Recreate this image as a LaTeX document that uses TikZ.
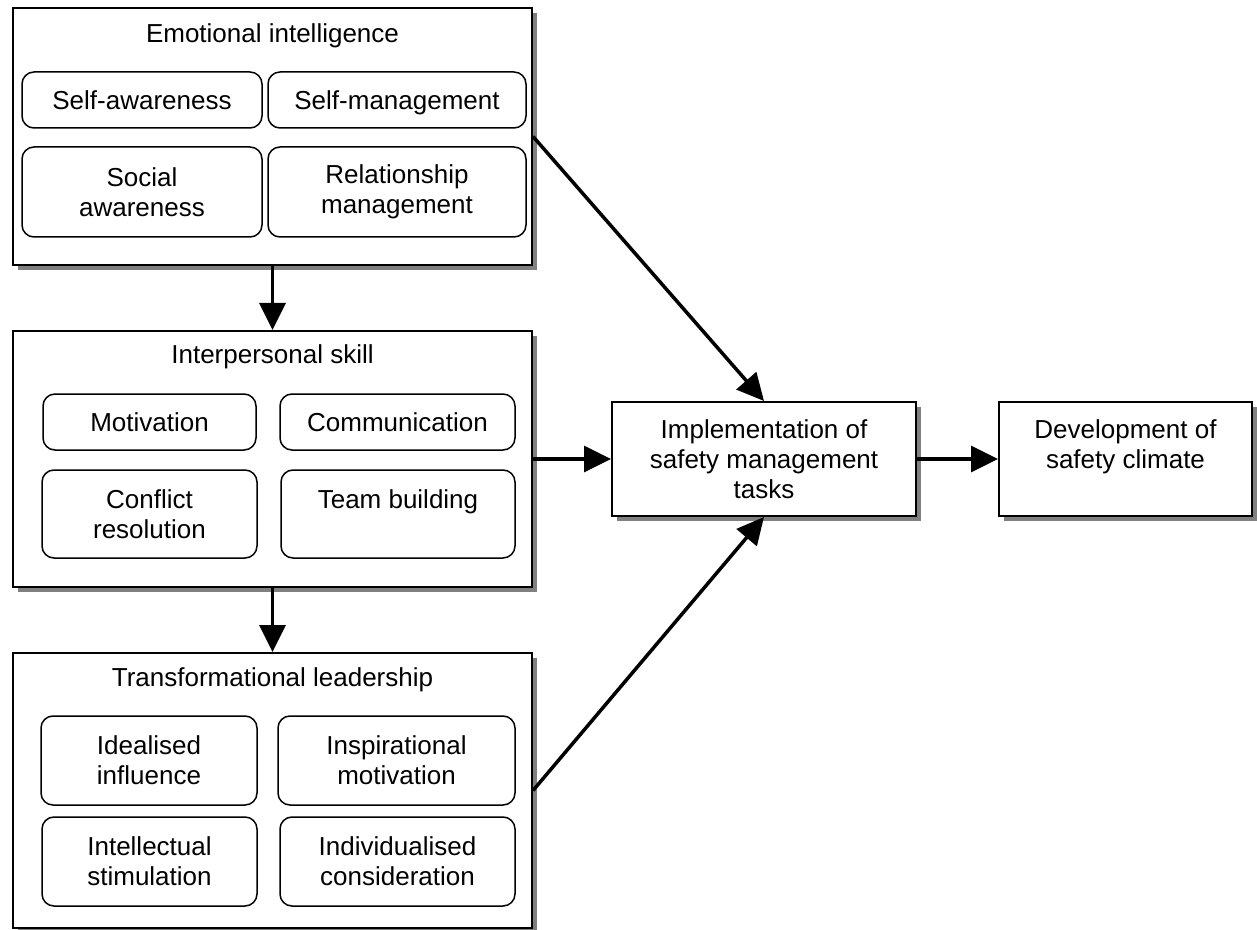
\documentclass[tikz,border=0pt]{standalone}
\usepackage{fontspec}
\setmainfont{Liberation Sans}
\usetikzlibrary{positioning}
\usetikzlibrary{shadows}
\usetikzlibrary{arrows.meta}
\tikzstyle{groupnode} = [draw, line width=1pt, fill=white, minimum width=259.5pt, inner sep=0pt, drop shadow={shadow xshift=2.5pt, shadow yshift=-2.5pt, opacity=1, fill=black!50}]
\tikzstyle{itemnode} = [draw, rounded corners=6pt, line width=0.75pt, fill=white, align=center, inner sep=0pt]
\tikzstyle{stagenode} = [draw, line width=1pt, fill=white, align=center, minimum height=57pt, inner sep=0pt, drop shadow={shadow xshift=2.5pt, shadow yshift=-2.5pt, opacity=1, fill=black!50}]
\tikzstyle{link} = [line width=1.75pt, -{Triangle[length=13.5pt, width=13pt]}]

\begin{document}
\begin{tikzpicture}[x=0.5pt, y=-0.5pt, font=\fontsize{13}{15}\selectfont]
  \useasboundingbox (0,0) rectangle (1257,930);

  \node[groupnode, minimum height=128.5pt] (EI) at (272.5,136.5) {};
  \node[groupnode, minimum height=128pt, below=32pt of EI] (IS) {};
  \node[groupnode, minimum height=137.5pt, below=32pt of IS] (TL) {};

  \node (EI_title) at (272.5,36) {Emotional intelligence};
  \node[itemnode, minimum width=120pt, minimum height=28pt] (selfaware) at (142,100) {Self-awareness};
  \node[itemnode, minimum width=129pt, minimum height=28pt, text depth=0pt] (selfmanage) at (397,100) {Self-management};
  \node[itemnode, minimum width=120pt, minimum height=45pt] (socialaware) at (142,192) {Social\\awareness};
  \node[itemnode, minimum width=129pt, minimum height=45pt] (relmanage) at (397,192) {Relationship\\management};

  \node (IS_title) at (272.5,357) {Interpersonal skill};
  \node[itemnode, minimum width=106.5pt, minimum height=28pt] (motiv) at (149.5,422) {Motivation};
  \node[itemnode, minimum width=117.5pt, minimum height=28pt] (comm) at (397.5,422) {Communication};
  \node[itemnode, minimum width=107.5pt, minimum height=44pt] (conflict) at (149.5,514) {Conflict\\resolution};
  \node[itemnode, minimum width=117pt, minimum height=44pt] (team) at (398,514) {Team building\\\mbox{}};

  \node (TL_title) at (272.5,680) {Transformational leadership};
  \node[itemnode, minimum width=108pt, minimum height=44.5pt] (ideal) at (149,760.5) {Idealised\\influence};
  \node[itemnode, minimum width=118.5pt, minimum height=44.5pt] (inspire) at (396.5,760.5) {Inspirational\\motivation};
  \node[itemnode, minimum width=107.5pt, minimum height=44.5pt] (intellect) at (149.5,861.5) {Intellectual\\stimulation};
  \node[itemnode, minimum width=117.5pt, minimum height=44.5pt] (indiv) at (397.5,861.5) {Individualised\\consideration};

  \node[stagenode, minimum width=152pt, right=39pt of IS] (impl) {Implementation of\\safety management\\tasks};
  \node[stagenode, minimum width=126.5pt, right=40.5pt of impl] (dev) {Development of\\safety climate\\\mbox{}};

  \draw[link] (EI.south) -- (IS.north);
  \draw[link] (IS.south) -- (TL.north);
  \draw[link] (EI.east) -- (impl.north);
  \draw[link] (IS.east) -- (impl.west);
  \draw[link] (TL.east) -- (impl.south);
  \draw[link] (impl.east) -- (dev.west);
\end{tikzpicture}
\end{document}
